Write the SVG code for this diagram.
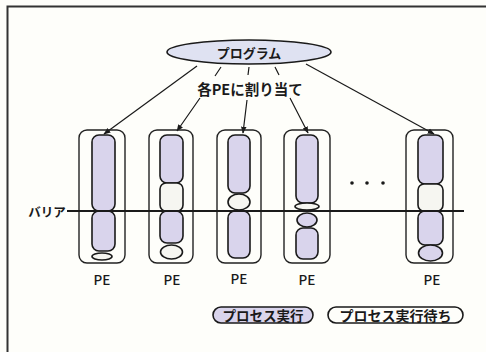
<svg xmlns="http://www.w3.org/2000/svg" width="486" height="352" viewBox="0 0 486 352">
<defs>
<style>
.t{font-family:"Noto Sans CJK JP","Noto Sans",sans-serif;font-weight:bold;fill:#1a1a1a;text-anchor:middle;dominant-baseline:central}
.pe{font-family:"Noto Sans CJK JP","Noto Sans",sans-serif;font-weight:500;fill:#1a1a1a;text-anchor:middle;dominant-baseline:central;font-size:13.5px}
.box{fill:none;stroke:#222;stroke-width:1.4}
.run{fill:#d9d4ec;stroke:#1a1a1a;stroke-width:1.6}
.wait{fill:#f6f6f1;stroke:#1a1a1a;stroke-width:1.6}
.con{fill:none;stroke:#1a1a1a;stroke-width:1.2}
</style>
<marker id="ah" viewBox="0 0 10 10" refX="9" refY="5" markerWidth="7" markerHeight="7" orient="auto" markerUnits="userSpaceOnUse">
<path d="M0,1 L10,5 L0,9 z" fill="#1a1a1a"/>
</marker>
</defs>
<rect width="486" height="352" fill="#fefefa"/>
<path d="M7.5,352 V6.5 H486" fill="none" stroke="#333" stroke-width="2"/>

<g id="program">
<ellipse cx="249" cy="52" rx="82" ry="12" fill="#dfe2f2" stroke="#1a1a1a" stroke-width="1.6"/>
<text class="t" x="249" y="52" font-size="13">プログラム</text>
</g>

<g id="connectors">
<path class="con" d="M197,66 L104,134" marker-end="url(#ah)"/>
<path class="con" d="M221,67 L215,76 M200,98 L177,131" marker-end="url(#ah)"/>
<path class="con" d="M249,67 L248,75 M247,100 L243,133" marker-end="url(#ah)"/>
<path class="con" d="M275,67 L279,75 M290,98 L308,133" marker-end="url(#ah)"/>
<path class="con" d="M306,64 L434,134" marker-end="url(#ah)"/>
</g>
<text id="assign-label" class="t" x="250" y="88" font-size="14.5">各PEに割り当て</text>

<g id="pe1">
<rect class="box" x="79" y="130" width="46" height="133" rx="8"/>
<rect class="run" x="92" y="135" width="23" height="76" rx="7"/>
<rect class="run" x="92" y="211" width="23" height="40" rx="7"/>
<ellipse class="wait" cx="102" cy="256.5" rx="10" ry="3.5"/>
<text class="pe" x="102" y="279">PE</text>
</g>

<g id="pe2">
<rect class="box" x="149" y="130" width="44" height="133" rx="8"/>
<rect class="run" x="160" y="135" width="23" height="48" rx="7"/>
<rect class="wait" x="160" y="183" width="23" height="28" rx="6"/>
<rect class="run" x="160" y="211" width="23" height="32" rx="7"/>
<ellipse class="wait" cx="171.5" cy="252" rx="11" ry="7"/>
<text class="pe" x="172" y="279">PE</text>
</g>

<g id="pe3">
<rect class="box" x="217" y="130" width="44" height="133" rx="8"/>
<rect class="run" x="228" y="135" width="22" height="58" rx="7"/>
<ellipse class="wait" cx="239" cy="202" rx="11" ry="8"/>
<rect class="run" x="228" y="211" width="22" height="47" rx="7"/>
<text class="pe" x="239" y="278">PE</text>
</g>

<g id="pe4">
<rect class="box" x="284" y="130" width="46" height="133" rx="8"/>
<rect class="run" x="296" y="135" width="22" height="68" rx="7"/>
<ellipse class="wait" cx="307" cy="206.5" rx="12" ry="3.5"/>
<ellipse class="run" cx="307" cy="220" rx="10" ry="7"/>
<rect class="run" x="296" y="228" width="22" height="31" rx="7"/>
<text class="pe" x="307" y="279">PE</text>
</g>

<g id="dots" fill="#1a1a1a">
<circle cx="352" cy="183" r="1.8"/>
<circle cx="367" cy="183" r="1.8"/>
<circle cx="383" cy="183" r="1.8"/>
</g>

<g id="pe5">
<rect class="box" x="406" y="130" width="47" height="133" rx="8"/>
<rect class="run" x="418" y="135" width="25" height="49" rx="7"/>
<rect class="wait" x="418" y="184" width="25" height="27" rx="6"/>
<rect class="run" x="418" y="211" width="25" height="34" rx="7"/>
<ellipse class="run" cx="430.5" cy="253" rx="12" ry="8"/>
<text class="pe" x="432" y="279">PE</text>
</g>

<g id="barrier">
<line x1="67" y1="211" x2="464" y2="211" stroke="#1a1a1a" stroke-width="2"/>
<text class="t" x="47" y="211" font-size="12.5">バリア</text>
</g>

<g id="legend-run">
<rect class="run" x="213" y="307" width="100" height="16" rx="8"/>
<text class="t" x="263" y="315" font-size="13.5">プロセス実行</text>
</g>
<g id="legend-wait">
<rect x="328" y="307" width="135" height="16" rx="8" fill="#fefefa" stroke="#1a1a1a" stroke-width="1.6"/>
<text class="t" x="395.5" y="315" font-size="14">プロセス実行待ち</text>
</g>
</svg>
